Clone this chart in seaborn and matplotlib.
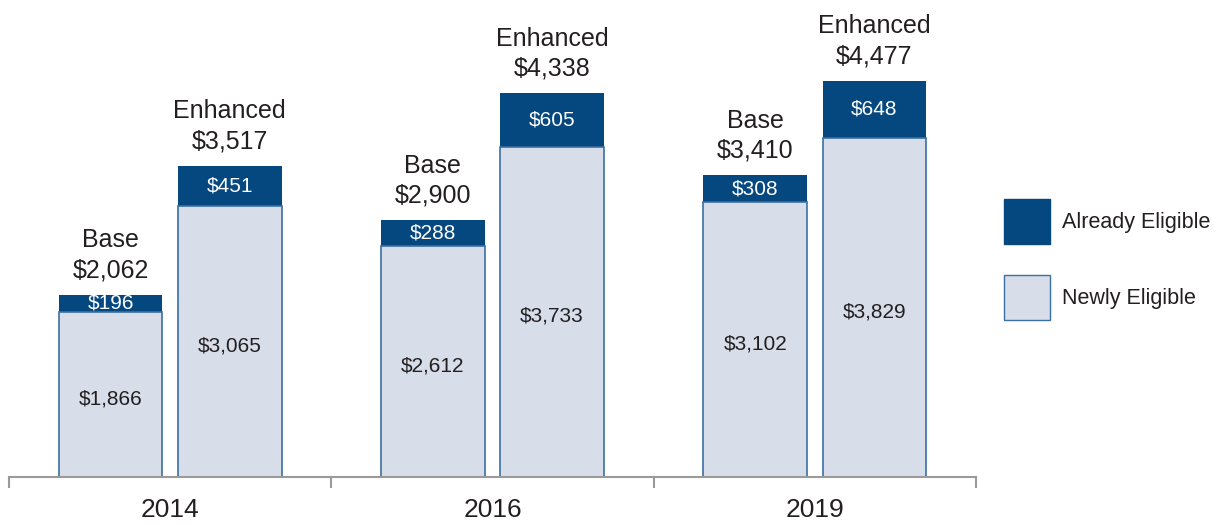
import seaborn as sns
import pandas as pd
import matplotlib.pyplot as plt
from matplotlib.patches import Patch

# values
years = ["2014", "2016", "2019"]
base_newly = [1866, 2612, 3102]
base_already = [196, 288, 308]
base_total = [2062, 2900, 3410]
enh_newly = [3065, 3733, 3829]
enh_already = [451, 605, 648]
enh_total = [3517, 4338, 4477]

dark = "#05477f"
light = "#d7dde9"
edge = "#3c6fa3"
txt = "#231f20"

sns.set_style("white")
plt.rcParams["font.family"] = ["Liberation Sans", "DejaVu Sans"]

df = pd.DataFrame({
    "year": years * 2,
    "kind": ["Base"] * 3 + ["Enhanced"] * 3,
    "total": base_total + enh_total,
    "newly": base_newly + enh_newly,
    "already": base_already + enh_already,
})

fig = plt.figure(figsize=(12.25, 5.25), dpi=100)
ax = fig.add_axes([9 / 1225, 48 / 525, 967 / 1225, 477 / 525])

# full bar in dark, newly-eligible part drawn over it
sns.barplot(data=df, x="year", y="total", hue="kind", palette={"Base": dark, "Enhanced": dark},
            width=0.74, gap=0.13, saturation=1, legend=False, ax=ax, linewidth=0)
sns.barplot(data=df, x="year", y="newly", hue="kind", palette={"Base": light, "Enhanced": light},
            width=0.74, gap=0.13, saturation=1, legend=False, ax=ax,
            edgecolor=edge, linewidth=1.2)

ax.set_xlim(-0.5, 2.5)
ax.set_ylim(0, 5390)

conts = ax.containers
for k, kind in enumerate(["Base", "Enhanced"]):
    sub = df[df.kind == kind].reset_index(drop=True)
    for i, bar in enumerate(conts[k]):
        xc = bar.get_x() + bar.get_width() / 2
        tot = sub.loc[i, "total"]
        nw = sub.loc[i, "newly"]
        al = sub.loc[i, "already"]
        ax.annotate(f"${nw:,}", (xc, nw / 2), xytext=(0, -3), textcoords="offset points",
                    ha="center", va="center", fontsize=15, color=txt)
        ax.text(xc, nw + (tot - nw) / 2, f"${al:,}", ha="center", va="center", fontsize=15, color="white")
        ax.annotate(f"{kind}\n${tot:,}", (xc, tot), xytext=(0, 9), textcoords="offset points",
                    ha="center", va="bottom", fontsize=18, color=txt, linespacing=1.32)

for s in ["top", "left", "right"]:
    ax.spines[s].set_visible(False)
ax.spines["bottom"].set_color("#9a9a9a")
ax.spines["bottom"].set_linewidth(1.5)
ax.set_yticks([])
ax.set_xticks([0, 1, 2])
ax.set_xticklabels(years)
ax.set_xticks([-0.5, 0.5, 1.5, 2.5], minor=True)
ax.tick_params(axis="x", which="major", bottom=False, length=0, pad=15, labelsize=19, labelcolor=txt)
ax.tick_params(axis="x", which="minor", bottom=True, length=8, width=1.5, color="#9a9a9a", direction="out")
ax.set_xlabel("")
ax.set_ylabel("")

handles = [Patch(facecolor=dark, edgecolor=dark, label="Already Eligible"),
           Patch(facecolor=light, edgecolor=edge, label="Newly Eligible")]
fig.legend(handles=handles, loc="upper left", bbox_to_anchor=(1004 / 1225, 1 - 199 / 525),
           frameon=False, fontsize=15.5, handlelength=2.14, handleheight=2.85,
           labelspacing=1.42, handletextpad=0.55, borderpad=0, borderaxespad=0,
           labelcolor=txt)

fig.savefig("out.png", dpi=100)
